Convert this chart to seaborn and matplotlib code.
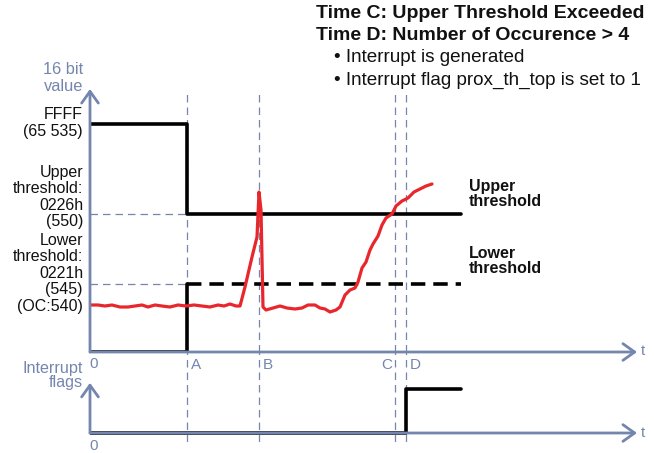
import matplotlib
matplotlib.use("Agg")
import matplotlib.pyplot as plt
import seaborn as sns

# time marks on the shared time axis (schematic units)
t_names = ["A", "B", "C", "D"]
t_marks = [97, 169, 305, 316]
t_end = 371

# schematic levels of the 16 bit value
level_ffff = 228
level_upper = 138
level_lower = 68
level_oc = 47

# proximity reading (red trace)
prox_t = [0, 8, 15, 22, 30, 38, 45, 52, 58, 65, 72, 80, 88, 96, 104, 112, 120, 128,
          134, 140, 146, 150, 155, 162, 167, 169, 171, 173, 176, 183, 190, 197, 205,
          212, 218, 225, 230, 235, 240, 246, 250, 255, 260, 265, 268, 272, 276, 280,
          283, 288, 292, 296, 302, 306, 312, 318, 324, 330, 336, 342]
prox_v = [47, 47, 46, 47, 45, 45, 46, 47, 45, 47, 46, 45, 47, 46, 47, 46, 45, 47,
          46, 48, 46, 46, 65, 95, 115, 160, 142, 45, 42, 44, 46, 44, 43,
          44, 47, 47, 44, 43, 40, 42, 45, 57, 62, 64, 70, 84, 90, 102,
          108, 116, 127, 134, 138, 146, 151, 154, 160, 163, 166, 168]

# threshold register traces
high_t = [0, 97, 97, t_end]
high_v = [level_ffff, level_ffff, level_upper, level_upper]
low_t = [0, 97, 97]
low_v = [0, 0, level_lower]

# interrupt flag
flag_t = [0, 316, 316, t_end]
flag_v = [0, 0, 1, 1]

blue = "#7485AE"
red = "#E8262B"

sns.set_theme(style="white")
plt.rcParams["font.family"] = ["Liberation Sans", "DejaVu Sans"]

fig = plt.figure(figsize=(6.54, 4.53), dpi=100)
ax = fig.add_axes([90 / 654, 101 / 453, 564 / 654, 352 / 453])
ax2 = fig.add_axes([90 / 654, 11 / 453, 564 / 654, 90 / 453])
ax.set_xlim(0, 564)
ax.set_ylim(0, 352)
ax2.set_xlim(0, 564)
ax2.set_ylim(-9 / 44, 81 / 44)
for a in (ax, ax2):
    a.set_axis_off()

arrow = dict(arrowstyle="->,head_length=0.7,head_width=0.5", lw=2.0, color=blue,
             shrinkA=0, shrinkB=0)

# guide lines
guide = dict(color=blue, lw=0.9, ls=(0, (6, 4)))
for t in t_marks:
    ax.plot([t, t], [0, 260], **guide)
    ax2.axvline(t, **guide)
ax.plot([0, 97], [level_upper, level_upper], **guide)
ax.plot([0, 97], [level_lower, level_lower], **guide)

# axes arrows
ax.annotate("", xy=(547, 0), xytext=(0, 0), arrowprops=arrow)
ax.annotate("", xy=(0, 263), xytext=(0, 0), arrowprops=arrow)
ax2.annotate("", xy=(547, 0), xytext=(0, 0), arrowprops=arrow)
ax2.annotate("", xy=(0, 1.14), xytext=(0, 0), arrowprops=arrow)

# signals
sns.lineplot(x=high_t, y=high_v, ax=ax, sort=False, estimator=None, color="black", lw=2.6)
sns.lineplot(x=low_t, y=low_v, ax=ax, sort=False, estimator=None, color="black", lw=2.6)
ax.plot([97, t_end], [level_lower, level_lower], color="black", lw=2.6, ls=(0, (4, 2.2)))
sns.lineplot(x=prox_t, y=prox_v, ax=ax, sort=False, estimator=None, color=red, lw=2.3)
sns.lineplot(x=flag_t, y=flag_v, ax=ax2, sort=False, estimator=None, color="black", lw=2.6)

# left labels
lab = dict(ha="right", va="center", fontsize=11.5, linespacing=1.1, color="#111111")
ax.text(-7, level_ffff + 1, "FFFF\n(65 535)", **lab)
ax.text(-7, level_upper + 17, "Upper\nthreshold:\n0226h\n(550)", **lab)
ax.text(-7, level_lower + 19, "Lower\nthreshold:\n0221h\n(545)", **lab)
ax.text(-7, level_oc - 2, "(OC:540)", **lab)
ax.text(-7, 274, "16 bit\nvalue", ha="right", va="center", fontsize=11.8, linespacing=1.12, color=blue)
ax2.text(-7, 1.31, "Interrupt\nflags", ha="right", va="center", fontsize=11.6, linespacing=0.95, color=blue)

# time labels
tl = dict(fontsize=11, color=blue, va="center")
ax.text(-1, -12, "0", ha="left", **tl)
for name, t in zip(t_names, t_marks):
    if name == "C":
        ax.text(t - 3, -13, name, ha="right", **tl)
    else:
        ax.text(t + 4, -13, name, ha="left", **tl)
ax.text(551, 1, "t", ha="left", **tl)
ax2.text(551, 0, "t", ha="left", **tl)
ax2.text(-1, -0.3, "0", ha="left", **tl)

# right labels
bl = dict(ha="left", va="center", fontsize=11.5, fontweight="bold", linespacing=1.0,
          color="#111111")
ax.text(379, 158, "Upper\nthreshold", **bl)
ax.text(379, 91, "Lower\nthreshold", **bl)

# header
ax.text(226, 338, "Time C: Upper Threshold Exceeded", ha="left", va="center",
        fontsize=14, fontweight="bold", color="#111111")
ax.text(226, 316, "Time D: Number of Occurence > 4", ha="left", va="center",
        fontsize=14, fontweight="bold", color="#111111")
ax.text(244, 294, "\u2022 Interrupt is generated", ha="left", va="center",
        fontsize=13.6, color="#111111")
ax.text(244, 272, "\u2022 Interrupt flag prox_th_top is set to 1", ha="left", va="center",
        fontsize=13.6, color="#111111")

fig.savefig("out.png", dpi=100)
